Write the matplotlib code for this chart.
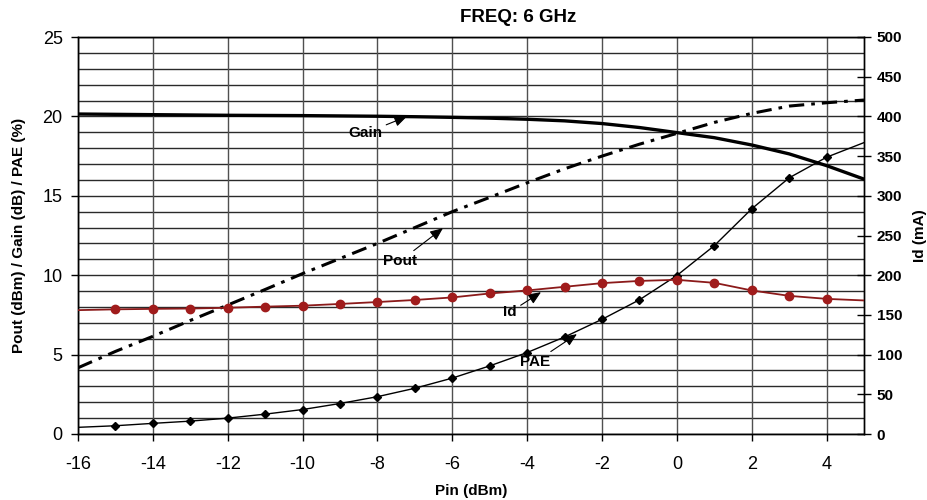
import matplotlib
matplotlib.use("Agg")
import matplotlib.pyplot as plt
import numpy as np

plt.rcParams['font.family'] = ['Liberation Sans', 'DejaVu Sans']

# Data
pin_line = [-16, -15, -14, -13, -12, -11, -10, -9, -8, -7, -6, -5, -4, -3, -2, -1, 0, 1, 2, 3, 4, 5]
pae = [0.42, 0.52, 0.67, 0.81, 1.0, 1.25, 1.54, 1.92, 2.35, 2.88, 3.52, 4.29, 5.13, 6.11, 7.22, 8.45, 9.98, 11.86, 14.18, 16.13, 17.43, 18.35]
id_ma = [156, 157, 157.6, 158, 159, 160.4, 161.6, 163.8, 166.2, 168.8, 172, 177, 180.8, 185.4, 190, 192.8, 194.2, 190.4, 180.8, 174, 170.2, 168.2]
gain = [20.15, 20.13, 20.11, 20.09, 20.07, 20.06, 20.05, 20.03, 20.01, 19.98, 19.94, 19.89, 19.82, 19.72, 19.55, 19.3, 18.98, 18.66, 18.2, 17.64, 16.9, 16.05]
pout = [4.17, 5.2, 6.15, 7.15, 8.12, 9.1, 10.1, 11.05, 12.0, 13.0, 14.0, 14.9, 15.82, 16.7, 17.5, 18.25, 18.93, 19.62, 20.19, 20.65, 20.86, 21.03]
marker_slice = slice(1, 21)  # markers at -15..4

x_ticks = [-16, -14, -12, -10, -8, -6, -4, -2, 0, 2, 4]
left_ticks = [0, 5, 10, 15, 20, 25]
right_ticks = [0, 50, 100, 150, 200, 250, 300, 350, 400, 450, 500]

fig = plt.figure(figsize=(9.28, 5.0), dpi=100)
ax = fig.add_axes([78/928, 1-434/500, (864-78)/928, (434-37)/500])
ax2 = ax.twinx()

ax.set_xlim(-16, 5)
ax.set_ylim(0, 25)
ax2.set_ylim(0, 500)

# grid
for yv in range(0, 26):
    ax.axhline(yv, color='#2a2a2a', lw=1.0, zorder=1)
for xv in x_ticks:
    ax.axvline(xv, color='#505050', lw=1.0, zorder=1)

# Gain
ax.plot(pin_line, gain, color='black', lw=2.4, zorder=3)
# Pout
ax.plot(pin_line, pout, color='black', lw=2.2, dashes=(5, 2.3, 1.2, 2.3), zorder=3)
# PAE
ax.plot(pin_line, pae, color='black', lw=1.0, zorder=3)
ax.plot(pin_line[marker_slice], pae[marker_slice], ls='none', marker='D', ms=4.5,
        color='black', zorder=4)
# Id on right axis
ax2.plot(pin_line, id_ma, color='#8b1a1a', lw=1.3, zorder=3)
ax2.plot(pin_line[marker_slice], id_ma[marker_slice], ls='none', marker='o', ms=6,
         color='#a01c1c', zorder=4)

ax.set_xticks(x_ticks)
ax.set_xticklabels([str(v) for v in x_ticks], fontsize=13)
ax.set_yticks(left_ticks)
ax.set_yticklabels([str(v) for v in left_ticks], fontsize=13)
ax2.set_yticks(right_ticks)
ax2.set_yticklabels([str(v) for v in right_ticks], fontsize=11, fontweight='bold')

ax.tick_params(axis='x', direction='out', length=5, width=1, pad=11)
ax.tick_params(axis='y', direction='out', length=5, width=1, pad=6)
ax2.tick_params(axis='y', direction='inout', length=10, width=1, pad=4)

for sp in ax.spines.values():
    sp.set_color('black')
    sp.set_linewidth(1.0)
for sp in ax2.spines.values():
    sp.set_color('black')
    sp.set_linewidth(1.0)

ax.set_xlabel('Pin (dBm)', fontsize=11, fontweight='bold', labelpad=8)
ax.set_ylabel('Pout (dBm) / Gain (dB) / PAE (%)', fontsize=11, fontweight='bold', labelpad=12)
ax2.set_ylabel('Id (mA)', fontsize=11, fontweight='bold', labelpad=8)
fig.text(518/928, 1-18/500, 'FREQ: 6 GHz', fontsize=13.5, fontweight='bold',
         ha='center', va='center')

arrow = dict(arrowstyle='-|>,head_length=0.7,head_width=0.3', color='black', lw=0.8,
             shrinkA=1, shrinkB=0)
ax.annotate('Gain', xy=(-7.21, 20.0), xytext=(-8.33, 18.93), fontsize=11, fontweight='bold',
            ha='center', va='center', arrowprops=arrow, zorder=5)
ax.annotate('Pout', xy=(-6.25, 12.96), xytext=(-7.40, 10.88), fontsize=11, fontweight='bold',
            ha='center', va='center', arrowprops=arrow, zorder=5)
ax.annotate('Id', xy=(-3.63, 8.93), xytext=(-4.46, 7.67), fontsize=11, fontweight='bold',
            ha='center', va='center', arrowprops=arrow, zorder=5)
ax.annotate('PAE', xy=(-2.67, 6.29), xytext=(-3.79, 4.53), fontsize=11, fontweight='bold',
            ha='center', va='center', arrowprops=arrow, zorder=5)

fig.savefig('out.png', dpi=100)
